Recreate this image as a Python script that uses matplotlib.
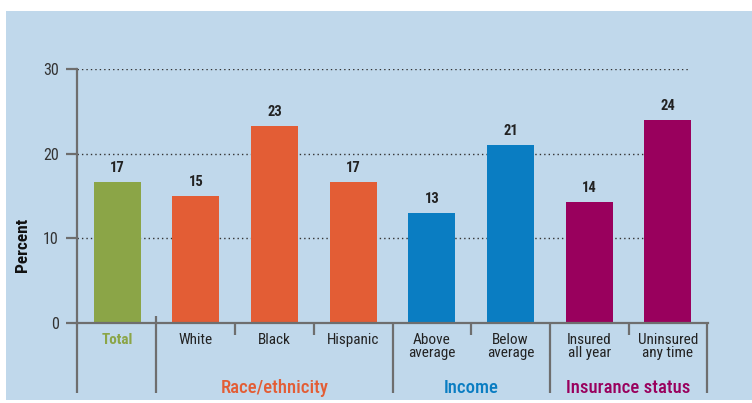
import matplotlib
matplotlib.use("Agg")
import matplotlib.pyplot as plt
import matplotlib.transforms as mtransforms
from matplotlib.patches import Rectangle

# Share of people in each group (percent)
categories = ["Total", "White", "Black", "Hispanic", "Above\naverage", "Below\naverage",
              "Insured\nall year", "Uninsured\nany time"]
values = [16.7, 15.0, 23.3, 16.7, 13.0, 21.0, 14.3, 24.0]
groups = ["Race/ethnicity", "Income", "Insurance status"]
group_members = [[1, 2, 3], [4, 5], [6, 7]]
yticks = [0, 10, 20, 30]

GREEN = "#8ba547"
ORANGE = "#e35d35"
BLUE = "#0a7dc2"
MAGENTA = "#99005d"
PANEL = "#c0d8eb"
AXIS = "#6e6e6e"
bar_colors = [GREEN, ORANGE, ORANGE, ORANGE, BLUE, BLUE, MAGENTA, MAGENTA]
group_colors = [ORANGE, BLUE, MAGENTA]

plt.rcParams["font.family"] = ["Roboto Condensed", "DejaVu Sans"]

W, H = 752, 403
fig = plt.figure(figsize=(W / 100, H / 100), dpi=100)
fig.patch.set_facecolor("white")
panel = Rectangle((6 / W, 3 / H), 1 - 6 / W, (400 - 11) / H,
                  transform=fig.transFigure, facecolor=PANEL,
                  edgecolor="none", zorder=-10)
fig.add_artist(panel)

ax = fig.add_axes([77 / W, (H - 323) / H, (708 - 77) / W, (323 - 69) / H])
ax.set_zorder(1)
ax.set_facecolor("none")
x = list(range(len(categories)))
ax.set_xlim(-0.51, 7.51)
ax.set_ylim(0, 30)

# dotted reference lines behind the bars
for t in yticks[1:]:
    ax.plot([-0.51, 7.27], [t, t], linestyle=(0, (1, 2.2)), color="#333333",
            linewidth=1.0, zorder=1)

ax.bar(x, values, width=0.6, color=bar_colors, zorder=2)
for xi, v in zip(x, values):
    ax.annotate(f"{v:.0f}", (xi, v), xytext=(0, 5), textcoords="offset points",
                ha="center", va="bottom", fontsize=10.5, fontweight="bold",
                color="#222222")

for s in ["top", "right"]:
    ax.spines[s].set_visible(False)
for s in ["left", "bottom"]:
    ax.spines[s].set_color(AXIS)
    ax.spines[s].set_linewidth(1.6)
ax.set_xticks([])
ax.set_yticks(yticks)
ax.tick_params(axis="y", length=8, width=1.6, color=AXIS, labelsize=11.5,
               labelcolor="#333333", pad=5)

trans = mtransforms.blended_transform_factory(ax.transData, ax.transAxes)
px = 1 / 254  # one pixel in axes-height units

# axis line continued below the baseline
ax.plot([-0.51, -0.51], [0, -70 * px], transform=trans, color=AXIS,
        linewidth=1.6, clip_on=False, solid_capstyle="butt")
# group separators
for sx, top in [(0.5, 7), (3.5, 0), (5.5, 0), (7.5, 0)]:
    ax.plot([sx, sx], [top * px, -70 * px], transform=trans, color=AXIS,
            linewidth=1.6, clip_on=False, solid_capstyle="butt")
# short ticks between categories of the same group
for sx in [1.5, 2.5, 4.5, 6.5]:
    ax.plot([sx, sx], [0, -12 * px], transform=trans, color=AXIS,
            linewidth=1.6, clip_on=False, solid_capstyle="butt")

for xi, lab in zip(x, categories):
    if xi == 0:
        ax.text(xi, -10 * px, lab, transform=trans, ha="center", va="top",
                fontsize=11, fontweight="bold", color=GREEN)
    else:
        ax.text(xi, -10 * px, lab, transform=trans, ha="center", va="top",
                fontsize=11, color="#222222", linespacing=0.9)

for g, members, c in zip(groups, group_members, group_colors):
    gx = (members[0] + members[-1]) / 2
    ax.text(gx, -65 * px, g, transform=trans, ha="center", va="center",
            fontsize=13.5, fontweight="medium", color=c)

fig.text(22 / W, (H - 245) / H, "Percent", rotation=90, ha="center", va="center",
         fontsize=12.5, fontweight="bold", color="#111111")

fig.savefig("out.png", dpi=100)
